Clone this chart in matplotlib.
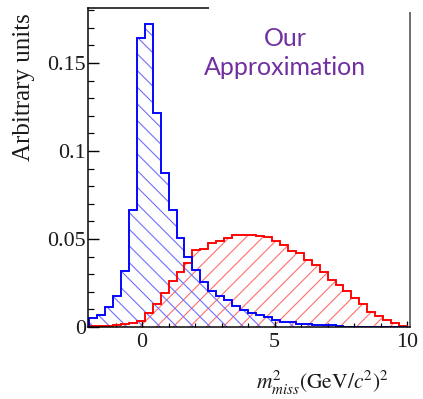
import numpy as np
import matplotlib
matplotlib.use("Agg")
import matplotlib.pyplot as plt
from matplotlib.patches import Rectangle
from matplotlib.ticker import MultipleLocator, FixedLocator

# ---- data ----
bin_edges = np.round(np.arange(-2.0, 10.0001, 0.3), 2)

blue_values = [0.005, 0.007, 0.0112, 0.0176, 0.032, 0.0665, 0.164, 0.172,
               0.1215, 0.0873, 0.0665, 0.0508, 0.0396, 0.0322, 0.0255, 0.0205,
               0.0174, 0.0152, 0.0117, 0.0098, 0.008, 0.0068, 0.0058, 0.0042,
               0.0030, 0.0026, 0.0019, 0.0017, 0.0013, 0.0012, 0.0010, 0.0008,
               0, 0, 0, 0, 0, 0, 0, 0]

red_values = [0.0003, 0.0008, 0.0008, 0.0012, 0.0017, 0.0025, 0.0035, 0.0078,
              0.013, 0.0195, 0.026, 0.031, 0.0365, 0.0438, 0.0442, 0.0475,
              0.049, 0.0506, 0.0523, 0.0525, 0.0525, 0.052, 0.051, 0.0487,
              0.0465, 0.043, 0.0422, 0.038, 0.0352, 0.031, 0.0267, 0.024,
              0.0205, 0.0162, 0.0128, 0.0085, 0.006, 0.0042, 0.0022, 0.0006]

x_ticks = [0, 5, 10]
x_ticklabels = ["0", "5", "10"]
y_ticks = [0, 0.05, 0.1, 0.15]
y_ticklabels = ["0", "0.05", "0.1", "0.15"]

annotation = "Our\nApproximation"
ylabel = "Arbitrary units"
xlabel = r"$m^2_{miss}\left(\mathrm{GeV}/c^2\right)^2$"

# ---- figure ----
DPI = 50
W, H = 423, 399


def pt(px):
    return px * 72.0 / DPI


plt.rcParams['hatch.linewidth'] = pt(1.1)
plt.rcParams['mathtext.fontset'] = 'stix'

fig = plt.figure(figsize=(W / DPI, H / DPI), dpi=DPI)
ax = fig.add_axes([88 / W, 1 - 327 / H, (410 - 88) / W, (327 - 8) / H])

ax.set_xlim(-2.04, 10.11)
ax.set_ylim(0, 0.1813)

# hatched fills
ax.stairs(red_values, bin_edges, fill=True, facecolor='none',
          edgecolor='#ff6e6e', hatch='/', linewidth=0, zorder=1)
ax.stairs(blue_values, bin_edges, fill=True, facecolor='none',
          edgecolor='#6e6eff', hatch='\\', linewidth=0, zorder=1)
# outlines
ax.stairs(red_values, bin_edges, color='#ff0000', linewidth=pt(1.9), zorder=3)
ax.stairs(blue_values, bin_edges, color='#0000ff', linewidth=pt(1.9), zorder=4)

# ticks
ax.xaxis.set_major_locator(FixedLocator(x_ticks))
ax.xaxis.set_minor_locator(MultipleLocator(1))
ax.yaxis.set_major_locator(FixedLocator(y_ticks))
ax.yaxis.set_minor_locator(MultipleLocator(0.01))
ax.set_xticklabels(x_ticklabels)
ax.set_yticklabels(y_ticklabels)

for lab in ax.get_xticklabels() + ax.get_yticklabels():
    lab.set_fontfamily('Liberation Serif')
    lab.set_fontsize(pt(22))
    lab.set_color('#1a1a1a')

ax.tick_params(axis='y', which='major', direction='in', length=pt(11), width=pt(1.4), pad=pt(2), right=False)
ax.tick_params(axis='y', which='minor', direction='in', length=pt(6), width=pt(1.2), right=False)
ax.tick_params(axis='x', which='major', direction='in', length=pt(6), width=pt(1.3), pad=pt(6), top=False)
ax.tick_params(axis='x', which='minor', direction='in', length=pt(4), width=pt(1.2), top=False)

for s in ['left', 'bottom', 'top']:
    ax.spines[s].set_linewidth(pt(1.5))
    ax.spines[s].set_color('black')
ax.spines['right'].set_linewidth(pt(1.5))
ax.spines['right'].set_color('#444444')
for s in ax.spines.values():
    s.set_zorder(5)

# y label
fig.text(24 / W, 1 - 87 / H, ylabel, rotation=90, ha='center', va='center',
         family='Liberation Serif', fontsize=pt(25), color='#1a1a1a')
# x label
fig.text(323 / W, 1 - 383 / H, xlabel, ha='center', va='center',
         fontsize=pt(21.5), color='#1a1a1a')

# white text box (covers the top-right part of the frame)
fig.patches.append(Rectangle((209 / W, 1 - 11.5 / H), (418 - 209) / W, 11.5 / H,
                             transform=fig.transFigure, facecolor='white',
                             edgecolor='none', zorder=10))
fig.text(285 / W, 1 - 53 / H, annotation, ha='center', va='center',
         family='Lato', fontsize=pt(25), color='#7030a0', linespacing=1.3, zorder=11)

fig.savefig('out.png', dpi=DPI)
